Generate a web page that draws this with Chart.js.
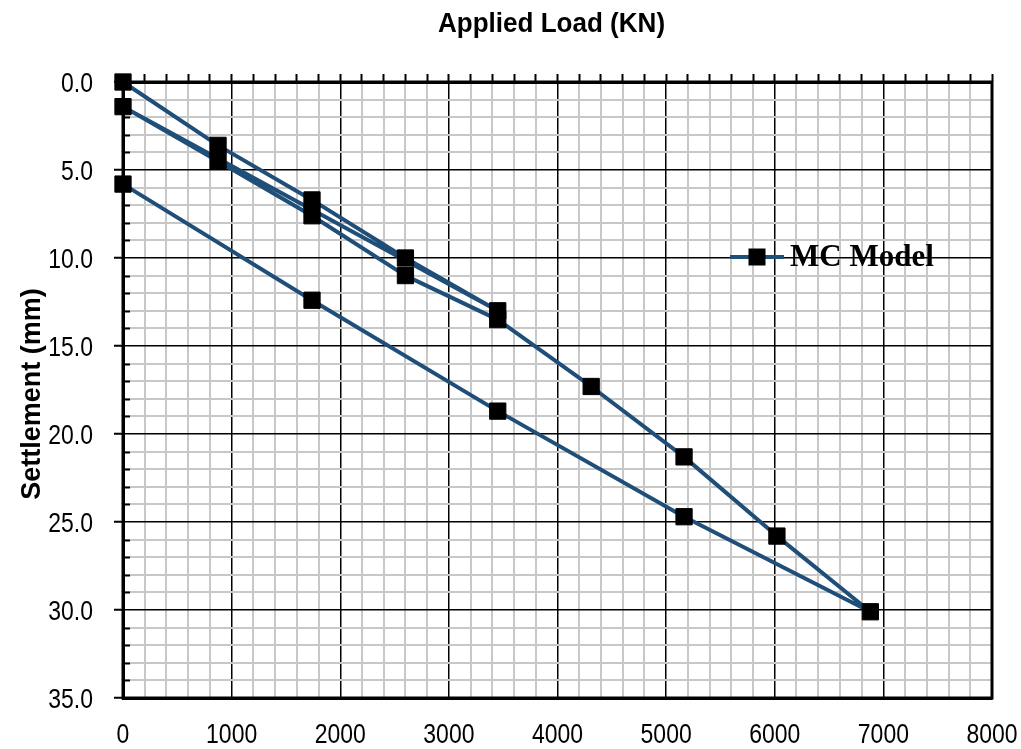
<!DOCTYPE html>
<html>
<head>
<meta charset="utf-8">
<script src="https://cdn.jsdelivr.net/npm/chart.js@4.4.1/dist/chart.umd.min.js"></script>
<style>
  html, body { margin: 0; padding: 0; background: #fff; }
  canvas { display: block; }
</style>
</head>
<body>
<canvas id="settleChart" width="1021" height="749"></canvas>
<script>
// 하중-침하 곡선 (재하/제하 반복)
var loads = [0, 875, 1740, 2600, 3450, 0, 875, 1740, 2600, 3450, 4310, 5165, 6020, 6880, 5165, 3450, 1740, 0];
var settlements = [0.0, 3.6, 6.7, 10.0, 13.0, 1.4, 4.5, 7.6, 11.0, 13.5, 17.3, 21.3, 25.8, 30.1, 24.7, 18.7, 12.4, 5.8];
var xTicks = [0, 1000, 2000, 3000, 4000, 5000, 6000, 7000, 8000];
var yTicks = [0, 5, 10, 15, 20, 25, 30, 35];
var seriesName = 'MC Model';
var xTitle = 'Applied Load (KN)';
var yTitle = 'Settlement (mm)';

var sans = '"Liberation Sans", Arial, sans-serif';
var lineColor = '#1f4e79';

function isMajorX(v) { return xTicks.indexOf(v) >= 0; }
function isMajorY(v) { return yTicks.indexOf(v) >= 0; }

// 좁은 글꼴 흉내: 가로로만 눌러서 그림
function narrowText(c, text, x, y, align, font, sx, rot) {
  c.save();
  c.translate(x, y);
  if (rot) c.rotate(rot);
  c.scale(sx, 1);
  c.font = font;
  c.textAlign = align;
  c.textBaseline = 'alphabetic';
  c.fillStyle = '#000';
  c.fillText(text, 0, 0);
  c.restore();
}

// 바깥 테두리, 왼쪽 안쪽 보조 눈금, 눈금 글자, 축 제목, 범례
var framePlugin = {
  id: 'frame',
  beforeDatasetsDraw: function (chart) {
    var a = chart.chartArea, c = chart.ctx, ys = chart.scales.y;
    c.save();
    c.strokeStyle = '#000';
    c.lineWidth = 2;
    for (var v = 0; v <= 35; v++) {
      if (isMajorY(v)) continue;
      var py = Math.round(ys.getPixelForValue(v)) + 0.5;
      c.beginPath();
      c.moveTo(a.left, py);
      c.lineTo(a.left + 7, py);
      c.stroke();
    }
    c.lineWidth = 3;
    c.strokeRect(a.left, a.top, a.right - a.left, a.bottom - a.top);
    c.restore();
  },
  afterDraw: function (chart) {
    var a = chart.chartArea, c = chart.ctx;
    var xs = chart.scales.x, ys = chart.scales.y;
    var tickFont = '28px ' + sans;

    yTicks.forEach(function (v) {
      narrowText(c, v.toFixed(1), a.left - 30, ys.getPixelForValue(v) + 10, 'right', tickFont, 0.82);
    });
    xTicks.forEach(function (v) {
      narrowText(c, String(v), xs.getPixelForValue(v), a.bottom + 45, 'center', tickFont, 0.82);
    });

    narrowText(c, xTitle, (a.left + a.right) / 2 - 6, 32, 'center', 'bold 28px ' + sans, 0.93);
    narrowText(c, yTitle, 40, (a.top + a.bottom) / 2 + 4, 'center', 'bold 27px ' + sans, 1, -Math.PI / 2);

    // 범례
    var ds = chart.data.datasets[0];
    var x0 = a.left + 607, y0 = a.top + 175;
    c.save();
    c.strokeStyle = ds.borderColor;
    c.lineWidth = ds.borderWidth;
    c.beginPath();
    c.moveTo(x0, y0);
    c.lineTo(x0 + 54, y0);
    c.stroke();
    c.fillStyle = '#000';
    c.fillRect(x0 + 27 - 8.5, y0 - 8.5, 17, 17);
    c.font = 'bold 31px "Liberation Serif", "Times New Roman", serif';
    c.textBaseline = 'middle';
    c.fillText(ds.label, x0 + 60, y0 + 1);
    c.restore();
  }
};

function minorSteps(max, step) {
  var out = [];
  for (var v = 0; v <= max; v += step) out.push({ value: v });
  return out;
}

var ctx = document.getElementById('settleChart').getContext('2d');
var chart = new Chart(ctx, {
  type: 'scatter',
  data: {
    datasets: [{
      label: seriesName,
      data: loads.map(function (x, i) { return { x: x, y: settlements[i] }; }),
      showLine: true,
      clip: false,
      borderColor: lineColor,
      borderWidth: 4,
      borderJoinStyle: 'round',
      pointStyle: 'rect',
      pointRadius: 11.5,
      pointHoverRadius: 11.5,
      pointBackgroundColor: '#000',
      pointBorderColor: '#000',
      pointBorderWidth: 1
    }]
  },
  options: {
    responsive: false,
    animation: false,
    layout: { padding: { left: 0, right: 29, top: 0, bottom: 0 } },
    plugins: {
      legend: { display: false },
      tooltip: { enabled: false }
    },
    scales: {
      x: {
        type: 'linear',
        position: 'bottom',
        min: 0,
        max: 8000,
        afterFit: function (s) { s.height = 51; },
        afterBuildTicks: function (s) { s.ticks = minorSteps(8000, 200); },
        ticks: { display: false },
        grid: {
          drawTicks: false,
          color: function (c) { return isMajorX(c.tick.value) ? '#000' : '#c8c8c8'; },
          lineWidth: function (c) { return isMajorX(c.tick.value) ? 1.5 : 2; }
        },
        border: { display: true, color: '#000', width: 3 }
      },
      xTop: {
        type: 'linear',
        position: 'top',
        min: 0,
        max: 8000,
        afterFit: function (s) { s.height = 82; },
        afterBuildTicks: function (s) { s.ticks = minorSteps(8000, 200); },
        ticks: { display: false },
        grid: {
          drawOnChartArea: false,
          drawTicks: true,
          tickLength: 8,
          tickColor: '#000',
          tickWidth: 2
        },
        border: { display: true, color: '#000', width: 3 }
      },
      y: {
        type: 'linear',
        position: 'left',
        reverse: true,
        min: 0,
        max: 35,
        afterFit: function (s) { s.width = 123; },
        afterBuildTicks: function (s) { s.ticks = minorSteps(35, 1); },
        ticks: { display: false },
        grid: {
          tickLength: 9,
          tickWidth: 2,
          color: function (c) { return isMajorY(c.tick.value) ? '#000' : '#c8c8c8'; },
          lineWidth: function (c) { return isMajorY(c.tick.value) ? 1.5 : 2; },
          tickColor: function (c) { return isMajorY(c.tick.value) ? '#000' : 'rgba(0,0,0,0)'; }
        },
        border: { display: true, color: '#000', width: 3 }
      }
    }
  },
  plugins: [framePlugin]
});
</script>
</body>
</html>
